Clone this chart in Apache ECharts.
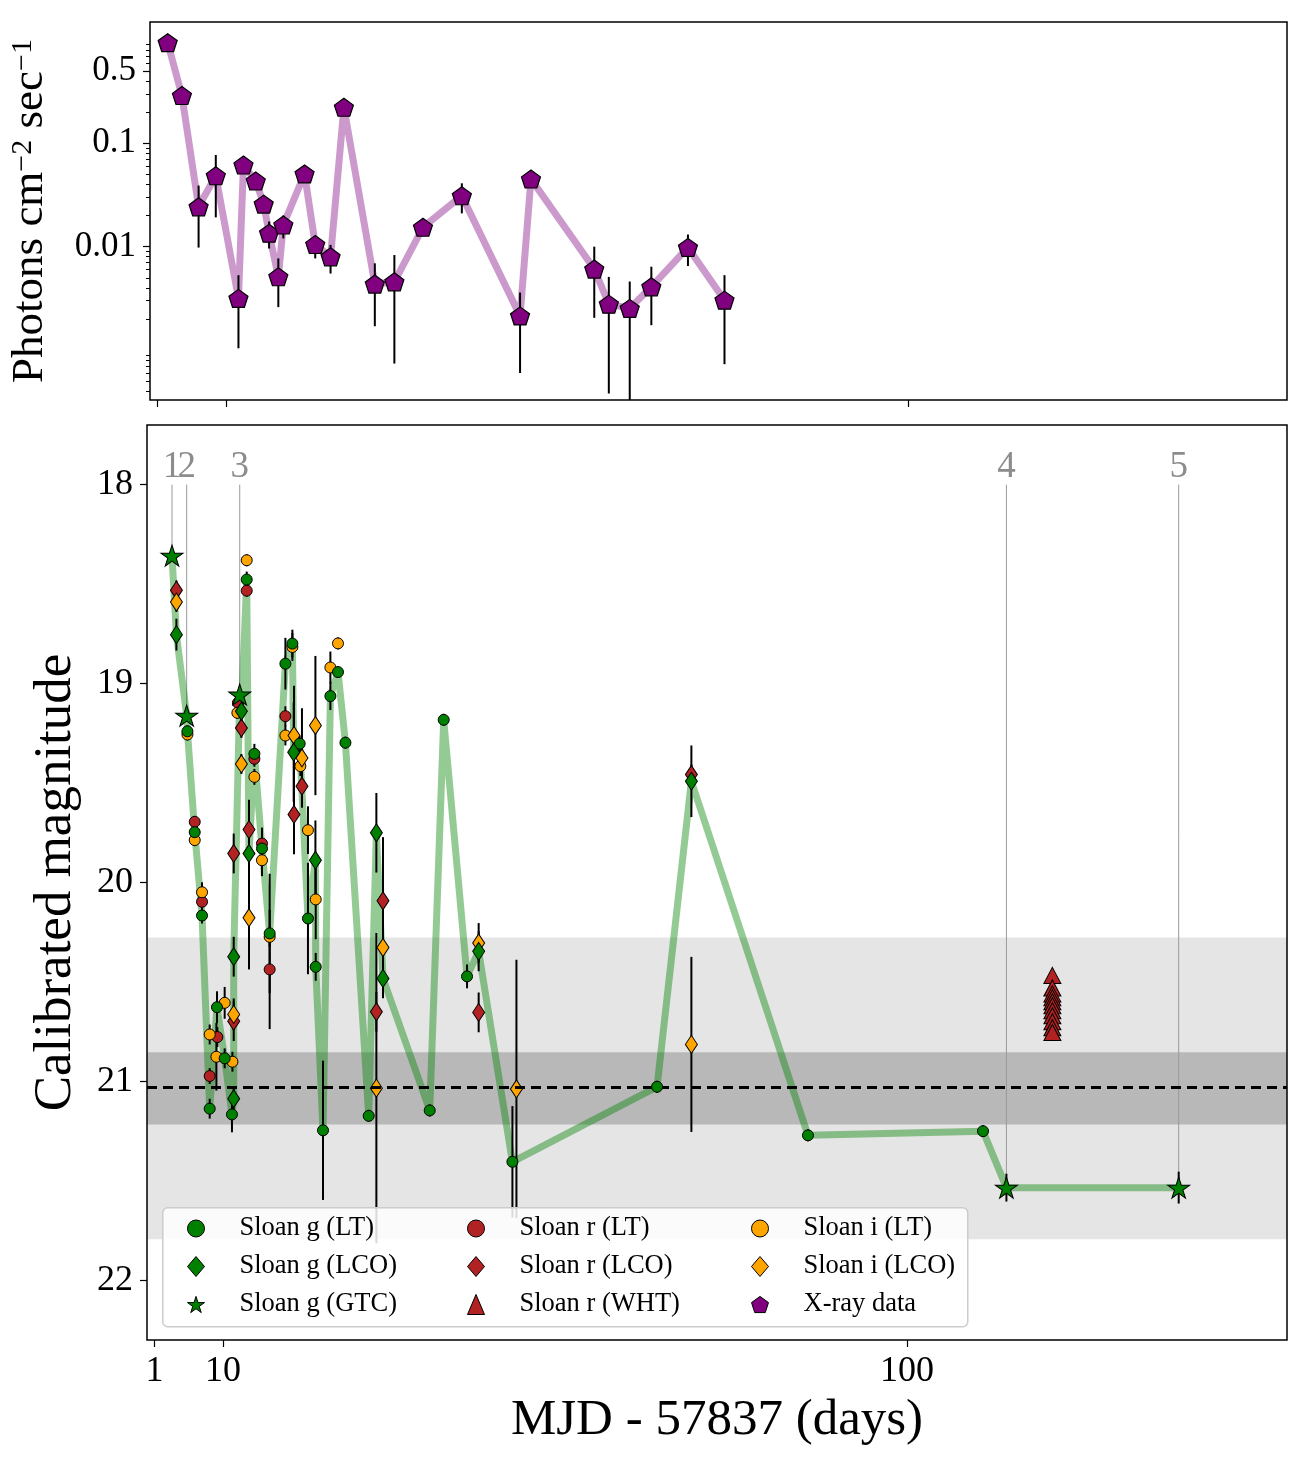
<!DOCTYPE html>
<html>
<head>
<meta charset="utf-8">
<script src="https://cdn.jsdelivr.net/npm/echarts@6/dist/echarts.min.js"></script>
<style>
  html, body { margin: 0; padding: 0; background: #fff; }
  #chart { width: 1311px; height: 1467px; }
</style>
</head>
<body>
<div id="chart"></div>
<script>
// ---- X-ray light curve (top panel) ----
const xrayDay = [2.33, 4.21, 6.41, 8.68, 11.67, 12.33, 13.95, 15.0, 15.71, 16.93, 17.59, 20.39, 21.8, 23.82,
  25.58, 29.66, 32.24, 36.01, 41.14, 48.82, 50.26, 58.61, 60.53, 63.29, 66.14, 70.97, 75.79];
const xrayFlux = [0.94, 0.29, 0.0243, 0.0485, 0.00316, 0.0616, 0.0432, 0.0258, 0.0135, 0.00512, 0.0162, 0.0505,
  0.0105, 0.00798, 0.223, 0.00435, 0.00457, 0.0154, 0.0311, 0.00214, 0.0451, 0.00607, 0.00278, 0.00253,
  0.00409, 0.00984, 0.00304];
const xrayLo = [0.94, 0.29, 0.0098, 0.0192, 0.00104, 0.058, 0.041, 0.0245, 0.0096, 0.0026, 0.012, 0.048,
  0.0077, 0.0055, 0.215, 0.0017, 0.00074, 0.0138, 0.021, 0.0006, 0.043, 0.00205, 0.00038, 0.0002,
  0.00174, 0.0065, 0.00073];
const xrayHi = [0.94, 0.29, 0.039, 0.077, 0.0053, 0.066, 0.046, 0.027, 0.0175, 0.0077, 0.020, 0.053,
  0.0125, 0.0104, 0.232, 0.0069, 0.0083, 0.0172, 0.041, 0.0036, 0.047, 0.010, 0.0051, 0.0046,
  0.0064, 0.0131, 0.0053];
const fluxTickLabels = [0.5, 0.1, 0.01];

// ---- optical photometry (bottom panel): [day, magnitude, error] ----
const gLT = [
  [5.32, 19.24, 0.03], [6.28, 19.747, 0.03], [7.24, 20.166, 0.04], [8.25, 21.137, 0.05],
  [9.21, 20.627, 0.08], [10.22, 20.884, 0.05], [11.18, 21.166, 0.09], [13.12, 18.477, 0.04],
  [14.13, 19.353, 0.05], [15.13, 19.829, 0.1], [16.14, 20.256, 0.3], [18.21, 18.90, 0.13],
  [19.13, 18.799, 0.07], [20.09, 19.302, 0.04], [21.18, 20.181, 0.28], [22.2, 20.424, 0.07],
  [23.16, 21.246, 0.35], [24.13, 19.063, 0.07], [25.13, 18.942, 0.03], [26.11, 19.297, 0.03],
  [29.17, 21.173, 0.03], [37.2, 21.146, 0.03], [39.04, 19.182, 0.03], [42.11, 20.472, 0.06],
  [48.08, 21.404, 0.28], [67.11, 21.027, 0.03], [86.97, 21.271, 0.03], [110.0, 21.25, 0.03]
];
const gLCO = [
  [3.87, 18.754, 0.08], [11.41, 21.087, 0.06], [11.41, 20.373, 0.1], [12.42, 19.139, 0.03],
  [13.42, 19.854, 0.1], [19.3, 19.345, 0.25], [22.16, 19.888, 0.2], [30.18, 19.75, 0.2],
  [31.05, 20.482, 0.1], [43.64, 20.346, 0.1], [71.63, 19.491, 0.18]
];
const gGTC = [
  [3.29, 18.357, 0.02], [5.22, 19.161, 0.02], [12.2, 19.055, 0.02], [113.08, 21.534, 0.07], [135.75, 21.534, 0.08]
];
const gtcLabels = ['1', '2', '3', '4', '5'];
const rLT = [
  [6.28, 19.695, 0.03], [7.24, 20.097, 0.04], [8.25, 20.973, 0.04], [9.26, 20.777, 0.05],
  [11.97, 19.097, 0.03], [13.12, 18.533, 0.03], [14.13, 19.378, 0.04], [15.13, 19.804, 0.08],
  [16.14, 20.437, 0.3], [18.21, 19.164, 0.05]
];
const rLCO = [
  [3.87, 18.531, 0.05], [11.41, 19.854, 0.1], [11.41, 20.697, 0.1], [12.42, 19.223, 0.05],
  [13.42, 19.734, 0.15], [19.34, 19.658, 0.2], [20.39, 19.516, 0.1], [30.18, 20.65, 0.1],
  [31.05, 20.092, 0.32], [43.64, 20.653, 0.1], [71.63, 19.457, 0.05]
];
const whtDay = 119.13;
const whtMag = [20.467, 20.53, 20.56, 20.58, 20.60, 20.62, 20.645, 20.67, 20.70, 20.73, 20.754];
const iLT = [
  [5.32, 19.256, 0.03], [6.28, 19.787, 0.03], [7.24, 20.049, 0.05], [8.25, 20.764, 0.05],
  [9.13, 20.876, 0.17], [10.22, 20.605, 0.08], [11.24, 20.901, 0.05], [11.89, 19.147, 0.03],
  [13.12, 18.38, 0.03], [14.13, 19.469, 0.04], [15.13, 19.888, 0.08], [16.14, 20.273, 0.05],
  [18.21, 19.261, 0.05], [19.13, 18.816, 0.07], [20.18, 19.415, 0.05], [21.18, 19.737, 0.12],
  [22.2, 20.085, 0.2], [24.13, 18.919, 0.08], [25.13, 18.798, 0.03]
];
const iLCO = [
  [3.87, 18.59, 0.05], [11.41, 20.663, 0.08], [12.42, 19.404, 0.05], [13.42, 20.177, 0.26],
  [19.34, 19.261, 0.25], [20.39, 19.374, 0.25], [22.16, 19.211, 0.35], [30.18, 21.034, 0.78],
  [31.05, 20.327, 0.1], [43.64, 20.304, 0.1], [48.61, 21.038, 0.65], [71.63, 20.814, 0.44]
];
const magTicks = [18, 19, 20, 21, 22];
const dayTicks = [1, 10, 100];
const bandOuter = [20.276, 21.794];
const bandInner = [20.854, 21.216];
const quiescentMag = 21.034;

const FONT = '"Liberation Serif", "DejaVu Serif", serif';
const STAR = 'path://M0,-10L2.24,-3.08L9.51,-3.09L3.62,1.18L5.88,8.09L0,3.81L-5.88,8.09L-3.62,1.18L-9.51,-3.09L-2.24,-3.08Z';
const PENT = 'path://M0,-10L9.51,-3.09L5.88,8.09L-5.88,8.09L-9.51,-3.09Z';
const GREEN = '#008000', RED = '#b22222', ORANGE = '#ffa500', PURPLE = '#800080';

const logMin = -3.483, logMax = 0.173;
const magMin = 17.7, magMax = 22.3;

// minor log ticks for the flux axis
const minorTicks = [];
for (let e = -4; e <= 0; e++) {
  for (let k = 2; k <= 9; k++) {
    const v = Math.log10(k * Math.pow(10, e));
    if (v > logMin && v < logMax && k * Math.pow(10, e) !== 0.5) minorTicks.push(v);
  }
}

function errBars(rows, xi, yi) {
  return {
    type: 'custom', xAxisIndex: xi, yAxisIndex: yi, z: 2, silent: true,
    data: rows,
    encode: { x: 0, y: [1, 2] },
    renderItem: (params, api) => {
      const a = api.coord([api.value(0), api.value(1)]);
      const b = api.coord([api.value(0), api.value(2)]);
      return { type: 'line', shape: { x1: a[0], y1: a[1], x2: b[0], y2: b[1] },
        style: { stroke: '#000', lineWidth: 2 } };
    }
  };
}
function magErr(rows) {
  return errBars(rows.map(r => [r[0], Math.max(magMin, r[1] - r[2]), Math.min(magMax, r[1] + r[2])]), 1, 2);
}
function dots(name, rows, symbol, size, color, z) {
  return {
    type: 'scatter', name, xAxisIndex: 1, yAxisIndex: 2, z,
    data: rows.map(r => [r[0], r[1]]),
    symbol, symbolSize: size,
    itemStyle: { color, borderColor: '#000', borderWidth: 1, opacity: 1 }
  };
}

const whtRows = whtMag.map(m => [whtDay, m, 0.02]);
const gLine = gGTC.concat(gLT, gLCO).slice().sort((a, b) => a[0] - b[0]).map(r => [r[0], r[1]]);

const xrayLine = xrayDay.map((d, i) => [d, Math.log10(xrayFlux[i])]);
const xrayErr = xrayDay.map((d, i) => [d, Math.max(logMin, Math.log10(xrayLo[i])), Math.min(logMax, Math.log10(xrayHi[i]))]);

const chart = echarts.init(document.getElementById('chart'));

const tickLabel = { fontFamily: FONT, fontSize: 36, color: '#000' };
const legendBase = {
  orient: 'vertical', itemWidth: 17, itemHeight: 20, itemGap: 11, padding: 0, z: 60,
  selectedMode: false,
  textStyle: { fontFamily: FONT, fontSize: 26.5, color: '#000', lineHeight: 26, padding: [0, 0, 0, 30] },
  itemStyle: { borderColor: '#000', borderWidth: 1, opacity: 1 }
};

chart.setOption({
  animation: false,
  backgroundColor: '#fff',
  grid: [
    { left: 147, top: 22, width: 1140, height: 378, show: true, borderColor: '#000', borderWidth: 1.5,
      backgroundColor: 'transparent', z: 10 },
    { left: 147, top: 425, width: 1140, height: 915, show: true, borderColor: '#000', borderWidth: 1.5,
      backgroundColor: 'transparent', z: 10 }
  ],
  xAxis: [
    { type: 'value', gridIndex: 0, position: 'bottom', min: 0, max: 150, splitLine: { show: false },
      axisLine: { show: false, onZero: false },
      axisTick: { show: true, length: 7, customValues: dayTicks, lineStyle: { color: '#000', width: 1.2 } },
      axisLabel: { show: false } },
    { type: 'value', gridIndex: 1, position: 'bottom', min: 0, max: 150, splitLine: { show: false },
      axisLine: { show: false, onZero: false },
      axisTick: { show: true, length: 7, customValues: dayTicks, lineStyle: { color: '#000', width: 1.2 } },
      axisLabel: Object.assign({ customValues: dayTicks, margin: 14 }, tickLabel),
      name: 'MJD - 57837 (days)', nameLocation: 'middle', nameGap: 54,
      nameTextStyle: { fontFamily: FONT, fontSize: 51, color: '#000' } }
  ],
  yAxis: [
    { type: 'value', gridIndex: 0, position: 'left', min: logMin, max: logMax, splitLine: { show: false },
      axisLine: { show: false, onZero: false },
      axisTick: { show: true, length: 7, customValues: fluxTickLabels.map(Math.log10), lineStyle: { color: '#000', width: 1.2 } },
      axisLabel: Object.assign({ customValues: fluxTickLabels.map(Math.log10), margin: 14,
        formatter: v => String(Number(Math.pow(10, v).toPrecision(1))) }, tickLabel, { fontSize: 35 }),
      name: 'Photons cm{s|−2} sec{s|−1}', nameLocation: 'middle', nameGap: 97, nameRotate: 90,
      nameTextStyle: { fontFamily: FONT, fontSize: 45, color: '#000',
        rich: { s: { fontFamily: FONT, fontSize: 30, color: '#000', verticalAlign: 'top' } } } },
    { type: 'value', gridIndex: 0, position: 'left', offset: 0, min: logMin, max: logMax, splitLine: { show: false },
      axisLine: { show: false, onZero: false },
      axisTick: { show: true, length: 4, customValues: minorTicks, lineStyle: { color: '#000', width: 1 } },
      axisLabel: { show: false } },
    { type: 'value', gridIndex: 1, position: 'left', min: magMin, max: magMax, inverse: true, splitLine: { show: false },
      axisLine: { show: false, onZero: false },
      axisTick: { show: true, length: 7, customValues: magTicks, lineStyle: { color: '#000', width: 1.2 } },
      axisLabel: Object.assign({ customValues: magTicks, margin: 14 }, tickLabel),
      name: 'Calibrated magnitude', nameLocation: 'middle', nameGap: 64, nameRotate: 90,
      nameTextStyle: { fontFamily: FONT, fontSize: 53, color: '#000' } }
  ],
  legend: [
    Object.assign({}, legendBase, { left: 187, top: 1215, data: [
      { name: 'Sloan g (LT)', icon: 'circle' }, { name: 'Sloan g (LCO)', icon: 'diamond' }, { name: 'Sloan g (GTC)', icon: STAR }] }),
    Object.assign({}, legendBase, { left: 467, top: 1215, data: [
      { name: 'Sloan r (LT)', icon: 'circle' }, { name: 'Sloan r (LCO)', icon: 'diamond' }, { name: 'Sloan r (WHT)', icon: 'triangle' }] }),
    Object.assign({}, legendBase, { left: 751, top: 1215, data: [
      { name: 'Sloan i (LT)', icon: 'circle' }, { name: 'Sloan i (LCO)', icon: 'diamond' }, { name: 'X-ray data', icon: PENT }] })
  ],
  graphic: [
    { type: 'rect', left: 162, top: 1207, z: 50, silent: true,
      shape: { width: 805, height: 119, r: 5 },
      style: { fill: 'rgba(255,255,255,0.85)', stroke: '#cccccc', lineWidth: 1.5 } }
  ],
  series: [
    // bands and quiescent level
    { type: 'line', xAxisIndex: 1, yAxisIndex: 2, data: [], z: 0, silent: true,
      markArea: { silent: true, data: [
        [{ yAxis: bandOuter[0], itemStyle: { color: '#e5e5e5' } }, { yAxis: bandOuter[1] }],
        [{ yAxis: bandInner[0], itemStyle: { color: '#b8b8b8' } }, { yAxis: bandInner[1] }]
      ] },
      markLine: { silent: true, symbol: 'none', label: { show: false },
        lineStyle: { color: '#000', type: [10, 6], width: 3 }, data: [{ yAxis: quiescentMag }] } },
    // GTC epoch markers
    { type: 'custom', xAxisIndex: 1, yAxisIndex: 2, z: 1, silent: true,
      data: gGTC.map(r => [r[0], r[1]]),
      encode: { x: 0, y: 1 },
      renderItem: (params, api) => {
        const x = api.value(0);
        const top = api.coord([x, 18.0]);
        const bot = api.coord([x, api.value(1)]);
        const lab = api.coord([x, 17.9]);
        return { type: 'group', children: [
          { type: 'line', shape: { x1: top[0], y1: top[1], x2: bot[0], y2: bot[1] },
            style: { stroke: '#999', lineWidth: 1 } },
          { type: 'text', x: lab[0], y: lab[1] + 2,
            style: { text: gtcLabels[params.dataIndex], fill: '#8c8c8c', font: '37px ' + FONT,
              align: 'center', verticalAlign: 'middle' } }
        ] };
      } },
    // g-band light curve
    { type: 'line', xAxisIndex: 1, yAxisIndex: 2, data: gLine, showSymbol: false, silent: true, z: 1,
      lineStyle: { color: 'rgba(0,128,0,0.42)', width: 7, join: 'round' } },
    magErr(rLT), magErr(rLCO), magErr(whtRows), magErr(iLT), magErr(iLCO), magErr(gLT), magErr(gLCO), magErr(gGTC),
    dots('Sloan r (LT)', rLT, 'circle', 11, RED, 3),
    dots('Sloan r (LCO)', rLCO, 'diamond', [12, 18], RED, 3),
    dots('Sloan r (WHT)', whtRows, 'triangle', [17, 16], RED, 3),
    dots('Sloan i (LT)', iLT, 'circle', 11, ORANGE, 4),
    dots('Sloan i (LCO)', iLCO, 'diamond', [12, 18], ORANGE, 4),
    dots('Sloan g (LT)', gLT, 'circle', 11, GREEN, 5),
    dots('Sloan g (LCO)', gLCO, 'diamond', [12, 18], GREEN, 5),
    dots('Sloan g (GTC)', gGTC, STAR, [22, 21], GREEN, 5),
    // X-ray panel
    { type: 'line', xAxisIndex: 0, yAxisIndex: 0, data: xrayLine, showSymbol: false, silent: true, z: 1,
      lineStyle: { color: 'rgba(128,0,128,0.4)', width: 7, join: 'round' } },
    errBars(xrayErr, 0, 0),
    { type: 'scatter', name: 'X-ray data', xAxisIndex: 0, yAxisIndex: 0, z: 3, data: xrayLine,
      symbol: PENT, symbolSize: [19, 18],
      itemStyle: { color: PURPLE, borderColor: '#000', borderWidth: 1.2, opacity: 1 } }
  ]
});
</script>
</body>
</html>
